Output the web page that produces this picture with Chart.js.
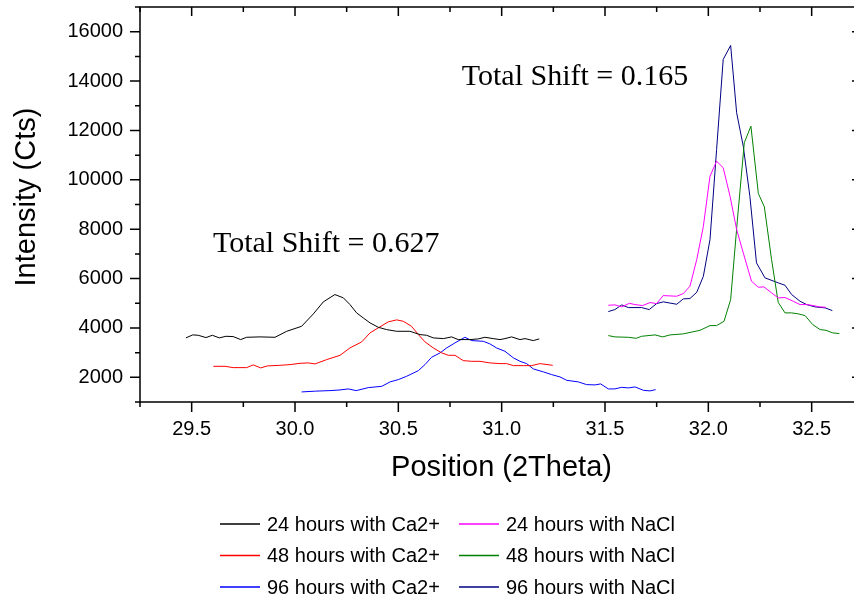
<!DOCTYPE html>
<html>
<head>
<meta charset="utf-8">
<title>XRD peak shift</title>
<script src="https://cdn.jsdelivr.net/npm/chart.js@4.4.1/dist/chart.umd.min.js"></script>
<style>
  html, body { margin: 0; padding: 0; background: #ffffff; }
  #wrap { width: 854px; height: 601px; }
</style>
</head>
<body>
<div id="wrap"><canvas id="xrd" width="854" height="601"></canvas></div>
<script>
// ---- Series: 2Theta positions and intensities (counts) ----
const ca24X = [29.472, 29.505, 29.532, 29.569, 29.600, 29.634, 29.666, 29.701, 29.737, 29.766, 29.831, 29.903, 29.960, 30.032, 30.089, 30.137, 30.193, 30.234, 30.266, 30.298, 30.330, 30.363, 30.403, 30.443, 30.492, 30.556, 30.605, 30.637, 30.669, 30.718, 30.758, 30.790, 30.847, 30.887, 30.919, 30.959, 30.992, 31.016, 31.048, 31.089, 31.113, 31.153, 31.182];
const ca24Y = [3597, 3718, 3702, 3609, 3702, 3597, 3662, 3650, 3528, 3621, 3637, 3621, 3864, 4067, 4570, 5056, 5352, 5218, 4947, 4610, 4407, 4205, 4026, 3933, 3864, 3864, 3731, 3702, 3597, 3568, 3637, 3528, 3528, 3556, 3621, 3568, 3528, 3568, 3637, 3528, 3568, 3487, 3556];

const ca48X = [29.605, 29.661, 29.701, 29.766, 29.798, 29.834, 29.866, 29.927, 29.976, 30.024, 30.064, 30.097, 30.153, 30.218, 30.266, 30.323, 30.363, 30.403, 30.451, 30.492, 30.524, 30.564, 30.597, 30.629, 30.669, 30.710, 30.742, 30.774, 30.814, 30.855, 30.895, 30.943, 30.992, 31.024, 31.057, 31.105, 31.145, 31.185, 31.247];
const ca48Y = [2446, 2446, 2393, 2393, 2503, 2381, 2462, 2486, 2515, 2567, 2584, 2543, 2717, 2892, 3191, 3435, 3800, 4002, 4245, 4326, 4270, 4067, 3731, 3435, 3191, 2989, 2892, 2892, 2677, 2648, 2648, 2584, 2555, 2555, 2474, 2474, 2474, 2555, 2486];

const ca96X = [30.032, 30.100, 30.169, 30.218, 30.258, 30.296, 30.355, 30.420, 30.460, 30.500, 30.540, 30.597, 30.629, 30.661, 30.702, 30.734, 30.774, 30.822, 30.855, 30.911, 30.943, 30.975, 31.016, 31.057, 31.089, 31.121, 31.153, 31.202, 31.242, 31.282, 31.315, 31.371, 31.411, 31.452, 31.479, 31.516, 31.548, 31.581, 31.613, 31.645, 31.686, 31.718, 31.745];
const ca96Y = [1408, 1440, 1461, 1489, 1530, 1461, 1583, 1635, 1814, 1907, 2041, 2272, 2515, 2811, 2989, 3191, 3394, 3621, 3487, 3459, 3354, 3191, 3054, 2786, 2648, 2555, 2340, 2219, 2109, 2016, 1878, 1814, 1704, 1692, 1733, 1530, 1530, 1595, 1570, 1611, 1473, 1449, 1502];

const na24X = [31.516, 31.548, 31.581, 31.618, 31.645, 31.682, 31.718, 31.750, 31.782, 31.847, 31.879, 31.911, 31.944, 31.976, 32.008, 32.040, 32.072, 32.105, 32.137, 32.169, 32.209, 32.242, 32.269, 32.306, 32.338, 32.371, 32.411, 32.444, 32.476, 32.508, 32.537, 32.569];
const na24Y = [4918, 4934, 4853, 4999, 4946, 4906, 5028, 4987, 5311, 5283, 5392, 5688, 6770, 8120, 10147, 10754, 10487, 9336, 7986, 7042, 5891, 5648, 5664, 5421, 5218, 5230, 5080, 4946, 4946, 4906, 4853, 4837];

const na48X = [31.516, 31.548, 31.613, 31.651, 31.677, 31.742, 31.779, 31.815, 31.879, 31.960, 32.008, 32.040, 32.076, 32.108, 32.140, 32.174, 32.206, 32.242, 32.271, 32.306, 32.338, 32.371, 32.403, 32.435, 32.468, 32.505, 32.541, 32.569, 32.602, 32.634];
const na48Y = [3690, 3637, 3621, 3581, 3662, 3718, 3637, 3718, 3759, 3905, 4095, 4095, 4270, 5149, 8323, 11500, 12173, 9445, 8906, 6770, 5040, 4610, 4610, 4570, 4501, 4136, 3933, 3905, 3800, 3771];

const na96X = [31.516, 31.548, 31.581, 31.613, 31.677, 31.714, 31.750, 31.782, 31.847, 31.879, 31.911, 31.944, 31.976, 32.008, 32.040, 32.072, 32.108, 32.137, 32.169, 32.201, 32.233, 32.274, 32.338, 32.371, 32.403, 32.444, 32.476, 32.516, 32.565, 32.600];
const na96Y = [4663, 4744, 4934, 4825, 4825, 4744, 4987, 5056, 4959, 5178, 5190, 5445, 6094, 7581, 11229, 14876, 15444, 12716, 11363, 9336, 6637, 6029, 5826, 5729, 5352, 5080, 4946, 4853, 4813, 4703];

const seriesLabels = [
  '24 hours with Ca2+', '48 hours with Ca2+', '96 hours with Ca2+',
  '24 hours with NaCl', '48 hours with NaCl', '96 hours with NaCl'
];

// ---- Axis ticks ----
const xTickValues = [29.5, 30.0, 30.5, 31.0, 31.5, 32.0, 32.5];
const xMinorValues = [29.25, 29.75, 30.25, 30.75, 31.25, 31.75, 32.25];
const yTickValues = [2000, 4000, 6000, 8000, 10000, 12000, 14000, 16000];
const yMinorValues = [1000, 3000, 5000, 7000, 9000, 11000, 13000, 15000, 17000];

// ---- Text notes placed in data coordinates ----
const noteTexts = ['Total Shift = 0.627', 'Total Shift = 0.165'];
const noteX = [29.603, 30.807];
const noteY = [7076, 13840];

const seriesColors = ['#000000', '#ff0000', '#0000ff', '#ff00ff', '#008000', '#000080'];
const SANS = '"Liberation Sans", Arial, sans-serif';

function pairs(xs, ys) { return xs.map((x, i) => ({ x: x, y: ys[i] })); }

const allSeries = [
  pairs(ca24X, ca24Y), pairs(ca48X, ca48Y), pairs(ca96X, ca96Y),
  pairs(na24X, na24Y), pairs(na48X, na48Y), pairs(na96X, na96Y)
];

const datasets = allSeries.map((pts, i) => ({
  label: seriesLabels[i],
  data: pts,
  borderColor: seriesColors[i],
  backgroundColor: seriesColors[i],
  borderWidth: 1,
  pointRadius: 0,
  pointHoverRadius: 0,
  tension: 0,
  fill: false
}));

// Frame, tick marks, axis titles, notes and the two-column legend
const decorations = {
  id: 'decorations',
  afterDraw(chart) {
    const ctx = chart.ctx;
    const xs = chart.scales.x, ys = chart.scales.y;
    const a = chart.chartArea;
    ctx.save();
    ctx.strokeStyle = '#000';
    ctx.lineWidth = 1.5;
    // box (right side falls just past the canvas edge)
    ctx.beginPath();
    ctx.moveTo(a.left, a.bottom);
    ctx.lineTo(a.left, a.top);
    ctx.lineTo(a.right + 3, a.top);
    ctx.moveTo(a.left, a.bottom);
    ctx.lineTo(a.right + 3, a.bottom);
    ctx.stroke();

    ctx.beginPath();
    xTickValues.forEach(v => {
      const p = xs.getPixelForValue(v);
      ctx.moveTo(p, a.bottom); ctx.lineTo(p, a.bottom + 10);
      ctx.moveTo(p, a.top); ctx.lineTo(p, a.top + 9);
    });
    xMinorValues.forEach(v => {
      const p = xs.getPixelForValue(v);
      ctx.moveTo(p, a.bottom); ctx.lineTo(p, a.bottom + 5);
      ctx.moveTo(p, a.top); ctx.lineTo(p, a.top + 5);
    });
    yTickValues.forEach(v => {
      const p = ys.getPixelForValue(v);
      ctx.moveTo(a.left - 10, p); ctx.lineTo(a.left, p);
      ctx.moveTo(a.right - 1, p); ctx.lineTo(a.right + 3, p);
    });
    yMinorValues.forEach(v => {
      const p = ys.getPixelForValue(v);
      ctx.moveTo(a.left - 5, p); ctx.lineTo(a.left, p);
    });
    ctx.stroke();

    // axis titles
    ctx.fillStyle = '#000';
    ctx.font = '29px ' + SANS;
    ctx.textAlign = 'center';
    ctx.textBaseline = 'alphabetic';
    ctx.fillText('Position (2Theta)', (a.left + a.right) / 2 + 5, 476);
    ctx.save();
    ctx.translate(35, 197);
    ctx.rotate(-Math.PI / 2);
    ctx.fillText('Intensity (Cts)', 0, 0);
    ctx.restore();

    // notes
    ctx.font = '30px "Liberation Serif", "Times New Roman", serif';
    ctx.textAlign = 'left';
    noteTexts.forEach((t, i) => {
      ctx.fillText(t, xs.getPixelForValue(noteX[i]), ys.getPixelForValue(noteY[i]));
    });

    // legend: Ca2+ series in the first column, NaCl series in the second
    const colLine = [220, 459];
    const rowY = [524, 555.5, 587];
    ctx.font = '20px ' + SANS;
    ctx.textBaseline = 'middle';
    chart.data.datasets.forEach((ds, i) => {
      const c = i < 3 ? 0 : 1, r = i % 3;
      const y = rowY[r];
      ctx.strokeStyle = ds.borderColor;
      ctx.lineWidth = 1.5;
      ctx.beginPath();
      ctx.moveTo(colLine[c], y);
      ctx.lineTo(colLine[c] + 40, y);
      ctx.stroke();
      ctx.fillStyle = '#000';
      ctx.fillText(ds.label, colLine[c] + 47, y + 1);
    });
    ctx.restore();
  }
};

new Chart(document.getElementById('xrd'), {
  type: 'line',
  data: { datasets: datasets },
  plugins: [decorations],
  options: {
    responsive: false,
    devicePixelRatio: 1,
    animation: false,
    events: [],
    layout: { padding: { left: 0, top: 7, right: 1, bottom: 0 } },
    plugins: {
      legend: { display: false },
      tooltip: { enabled: false },
      title: { display: false }
    },
    scales: {
      x: {
        type: 'linear',
        min: 29.25,
        max: 32.7,
        grid: { display: false, drawTicks: false },
        border: { display: false },
        afterBuildTicks: s => { s.ticks = xTickValues.map(v => ({ value: v })); },
        afterFit: s => { s.height = 199; s.paddingLeft = 0; s.paddingRight = 0; },
        ticks: {
          color: '#000',
          font: { family: SANS, size: 20 },
          padding: 15,
          maxRotation: 0,
          autoSkip: false,
          callback: v => Number(v).toFixed(1)
        }
      },
      y: {
        type: 'linear',
        min: 1000,
        max: 17000,
        grid: { display: false, drawTicks: false },
        border: { display: false },
        afterBuildTicks: s => { s.ticks = yTickValues.map(v => ({ value: v })); },
        afterFit: s => { s.width = 140; s.paddingTop = 0; s.paddingBottom = 0; },
        ticks: {
          color: '#000',
          font: { family: SANS, size: 20 },
          padding: 17,
          autoSkip: false,
          callback: v => String(v)
        }
      }
    }
  }
});
</script>
</body>
</html>
